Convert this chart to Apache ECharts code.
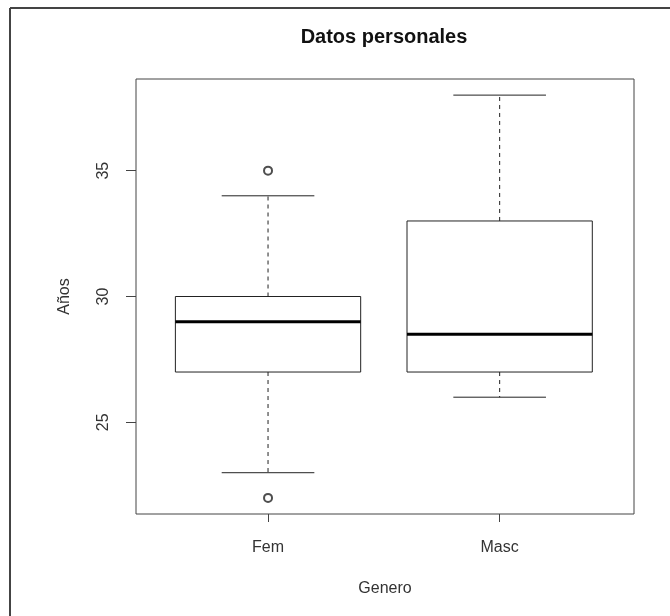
<!DOCTYPE html>
<html>
<head>
<meta charset="utf-8">
<title>Datos personales</title>
<script src="https://cdn.jsdelivr.net/npm/echarts@6/dist/echarts.min.js"></script>
<style>
  html, body { margin: 0; padding: 0; background: #fff; }
  #chart { width: 670px; height: 616px; }
</style>
</head>
<body>
<div id="chart"></div>
<script>
// Age summary per gender (five-number summaries of the boxplot)
const categories = ['Fem', 'Masc'];
const lowerWhisker = [23, 26];
const q1 = [27, 27];
const median = [29, 28.5];
const q3 = [30, 33];
const upperWhisker = [34, 38];

// Points outside the whiskers
const outlierGroup = ['Fem', 'Fem'];
const outlierValue = [35, 22];

// Value-axis tick labels
const yTicks = [25, 30, 35];

// Box and whisker-cap half widths, in category units
const BOX_HALF = 0.4;
const CAP_HALF = 0.2;

const FONT = '"Liberation Sans", Arial, sans-serif';
const INK = '#222';

const boxData = categories.map((c, i) => [
  i + 1, lowerWhisker[i], q1[i], median[i], q3[i], upperWhisker[i]
]);
const outlierData = outlierGroup.map((g, i) => [categories.indexOf(g) + 1, outlierValue[i]]);

function line(p0, p1, style) {
  return { type: 'line', shape: { x1: p0[0], y1: p0[1], x2: p1[0], y2: p1[1] }, style: style };
}

function renderBox(params, api) {
  const x = api.value(0);
  const lo = api.value(1), b1 = api.value(2), md = api.value(3), b3 = api.value(4), hi = api.value(5);
  const tl = api.coord([x - BOX_HALF, b3]);
  const br = api.coord([x + BOX_HALF, b1]);
  const solid = { stroke: INK, lineWidth: 1, fill: null };
  const dashed = { stroke: INK, lineWidth: 1, lineDash: [4, 4], fill: null };
  return {
    type: 'group',
    children: [
      line(api.coord([x, b3]), api.coord([x, hi]), dashed),
      line(api.coord([x, b1]), api.coord([x, lo]), dashed),
      line(api.coord([x - CAP_HALF, hi]), api.coord([x + CAP_HALF, hi]), solid),
      line(api.coord([x - CAP_HALF, lo]), api.coord([x + CAP_HALF, lo]), solid),
      {
        type: 'rect',
        shape: { x: tl[0], y: tl[1], width: br[0] - tl[0], height: br[1] - tl[1] },
        style: { fill: '#fff', stroke: INK, lineWidth: 1 }
      },
      line(api.coord([x - BOX_HALF, md]), api.coord([x + BOX_HALF, md]),
           { stroke: '#000', lineWidth: 3, fill: null })
    ]
  };
}

const chart = echarts.init(document.getElementById('chart'), null, { renderer: 'canvas' });

chart.setOption({
  backgroundColor: '#fff',
  animation: false,
  title: {
    text: 'Datos personales',
    left: 384,
    top: 27,
    padding: 0,
    textAlign: 'center',
    textStyle: { fontFamily: FONT, fontSize: 20, fontWeight: 'bold', color: '#111' }
  },
  grid: {
    left: 136, top: 79, width: 498, height: 435,
    show: true, borderColor: '#444', borderWidth: 1, backgroundColor: 'transparent'
  },
  xAxis: {
    type: 'value',
    min: 0.43,
    max: 2.58,
    name: 'Genero',
    nameLocation: 'middle',
    nameGap: 67,
    nameTextStyle: { fontFamily: FONT, fontSize: 16, color: '#333', verticalAlign: 'top' },
    axisLine: { show: false },
    splitLine: { show: false },
    axisTick: { show: true, length: 8, customValues: [1, 2], lineStyle: { color: '#444' } },
    axisLabel: {
      customValues: [1, 2],
      margin: 26,
      fontFamily: FONT, fontSize: 16, color: '#333',
      formatter: v => categories[Math.round(v) - 1]
    }
  },
  yAxis: {
    type: 'value',
    min: 21.36,
    max: 38.64,
    name: 'Años',
    nameLocation: 'middle',
    nameGap: 63,
    nameRotate: 90,
    nameTextStyle: { fontFamily: FONT, fontSize: 16, color: '#333' },
    axisLine: { show: false },
    splitLine: { show: false },
    axisTick: { show: true, length: 10, customValues: yTicks, lineStyle: { color: '#444' } },
    axisLabel: {
      customValues: yTicks,
      rotate: 90,
      margin: 24,
      fontFamily: FONT, fontSize: 16, color: '#333'
    }
  },
  graphic: [
    { type: 'line', shape: { x1: 10, y1: 8, x2: 670, y2: 8 }, style: { stroke: '#444', lineWidth: 2 } },
    { type: 'line', shape: { x1: 10, y1: 8, x2: 10, y2: 616 }, style: { stroke: '#444', lineWidth: 2 } }
  ],
  series: [
    {
      type: 'custom',
      renderItem: renderBox,
      encode: { x: 0, y: [1, 2, 3, 4, 5] },
      data: boxData,
      z: 2
    },
    {
      type: 'scatter',
      data: outlierData,
      symbol: 'emptyCircle',
      symbolSize: 8,
      itemStyle: { color: INK, borderWidth: 1 },
      z: 3
    }
  ]
});
</script>
</body>
</html>
